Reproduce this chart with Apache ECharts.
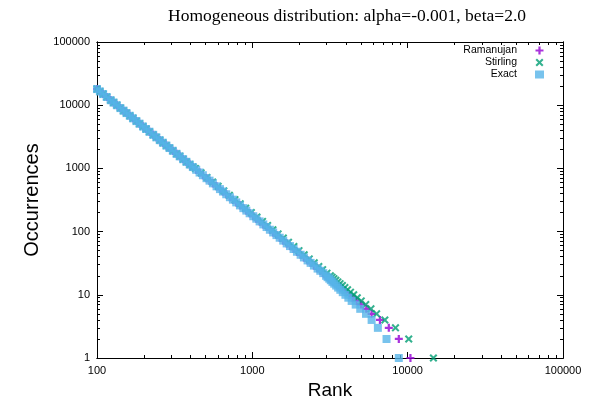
<!DOCTYPE html>
<html>
<head>
<meta charset="utf-8">
<script src="https://cdn.jsdelivr.net/npm/echarts@6/dist/echarts.min.js"></script>
<style>
html,body{margin:0;padding:0;background:#fff;}
#chart{width:611px;height:399px;}
</style>
</head>
<body>
<div id="chart"></div>
<script>
// ---- Data ----
const titleText = 'Homogeneous distribution: alpha=-0.001, beta=2.0';
const seriesNames = ['Ramanujan', 'Stirling', 'Exact'];
const xTickLabels = [100, 1000, 10000, 100000];
const yTickLabels = [1, 10, 100, 1000, 10000, 100000];

// shared body of the curve (all three series overlap here)
const bodyOcc = [18000,16500,15000,13500,12000,11000,10000,9000,8200,7500,6800,6200,5600,5100,4600,4200,3800,3400,3100,2800,2550,2300,2100,1900,1700,1550,1400,1270,1150,1050,950,860,780,700,640,580,520,470,430,390,350,320,290,260,235,215,195,175,160,145,130,118,107,97,88,80,72,65,59,53,48,43,39,35,32,29,26,24,22];
const bodyRanks = [100,104.4,109.5,115.5,122.5,127.9,134.2,141.4,148.2,154.9,162.7,170.4,179.3,187.9,197.8,207.0,217.7,230.1,241.0,253.5,265.7,279.7,292.8,307.8,325.4,340.8,358.5,376.5,395.6,414.1,435.3,457.5,480.4,507.1,530.3,557.1,588.3,618.8,646.9,679.4,717.1,750.0,787.8,832.2,875.2,915.0,960.9,1014,1061,1114,1177,1235,1297,1362,1430,1500,1581,1664,1747,1843,1937,2046,2148,2268,2372,2491,2631,2739,2861];

// tail: occurrence levels 20 .. 1
const tailOcc = [20,19,18,17,16,15,14,13,12,11,10,9,8,7,6,5,4,3,2,1];
const exactTailRanks = [2983,3052,3127,3199,3279,3366,3464,3568,3685,3820,3975,4150,4359,4629,4950,5390,5860,6430,7310,8770];
const ramanujanTailRanks = [2966,3044,3127,3218,3317,3425,3546,3679,3830,4000,4195,4422,4690,5014,5416,5860,6630,7560,8770,10420];
const stirlingTailRanks = [3178,3261,3350,3447,3553,3670,3799,3942,4103,4285,4494,4738,5025,5372,5802,6310,7130,8350,10160,14650];

// Stirling deviates slightly (to the right) in the middle part
const stirlingMidOcc = [1000,850,720,610,520,440,375,320,275,235,200,170,145,125,107,92,79,68,58,50,43,37,32,28,25,22];
const stirlingMidRanks = [430.1,467.8,509.6,555.2,602.1,655.4,711.8,772.6,835.6,906.2,984.9,1071,1163,1254,1357,1465,1583,1709,1852,1997,2157,2325,2503,2679,2835,3023];

const colors = { Ramanujan: '#9400d3', Stirling: '#009e73', Exact: '#56b4e9' };

function pairs(ranks, occ) { return ranks.map((r, i) => [r, occ[i]]); }

const bodyPairs = pairs(bodyRanks, bodyOcc);
const exactData = bodyPairs.concat(pairs(exactTailRanks, tailOcc));
const ramanujanData = bodyPairs.concat(pairs(ramanujanTailRanks, tailOcc));
const stirlingData = bodyPairs.filter(p => p[1] > 1000)
  .concat(pairs(stirlingMidRanks, stirlingMidOcc))
  .concat(pairs(stirlingTailRanks, tailOcc));

// minor tick positions of log axes (2..9 in every decade)
function minorTicks(lo, hi) {
  const out = [];
  for (let d = lo; d < hi; d *= 10) for (let k = 2; k <= 9; k++) out.push(d * k);
  return out;
}
const xMinor = minorTicks(100, 100000);
const yMinor = minorTicks(1, 100000);

const plusPath = 'path://M3.6,0h2.8v3.6h3.6v2.8h-3.6v3.6h-2.8v-3.6h-3.6v-2.8h3.6z';
const crossPath = 'path://M0,1.8L1.8,0L5,3.2L8.2,0L10,1.8L6.8,5L10,8.2L8.2,10L5,6.8L1.8,10L0,8.2L3.2,5Z';

const font = 'Liberation Sans';
const axisLineStyle = { show: true, onZero: false, lineStyle: { color: '#000', width: 1 } };

function xAxisDef(pos, minor, withLabels) {
  return {
    type: 'log', logBase: 10, min: 100, max: 100000, position: pos, gridIndex: 0,
    axisLine: axisLineStyle,
    splitLine: { show: false },
    axisTick: minor
      ? { show: true, inside: true, length: 3, customValues: xMinor, lineStyle: { color: '#000' } }
      : { show: true, inside: true, length: 6, lineStyle: { color: '#000' } },
    axisLabel: withLabels
      ? { show: true, color: '#000', fontFamily: font, fontSize: 11, margin: 7,
          formatter: v => String(Math.round(v)) }
      : { show: false },
    name: withLabels ? 'Rank' : '',
    nameLocation: 'middle', nameGap: 20,
    nameTextStyle: { fontFamily: font, fontSize: 19, color: '#000' }
  };
}
function yAxisDef(pos, minor, withLabels) {
  return {
    type: 'log', logBase: 10, min: 1, max: 100000, position: pos, gridIndex: 0,
    axisLine: axisLineStyle,
    splitLine: { show: false },
    axisTick: minor
      ? { show: true, inside: true, length: 3, customValues: yMinor, lineStyle: { color: '#000' } }
      : { show: true, inside: true, length: 6, lineStyle: { color: '#000' } },
    axisLabel: withLabels
      ? { show: true, color: '#000', fontFamily: font, fontSize: 11, margin: 7,
          formatter: v => String(Math.round(v)) }
      : { show: false },
    name: withLabels ? 'Occurrences' : '',
    nameLocation: 'middle', nameGap: 50, nameRotate: 90,
    nameTextStyle: { fontFamily: font, fontSize: 20, color: '#000' }
  };
}

const chart = echarts.init(document.getElementById('chart'), null, { renderer: 'canvas' });
chart.setOption({
  animation: false,
  backgroundColor: '#fff',
  title: {
    text: titleText, left: 342, top: 2, textAlign: 'center',
    textStyle: { fontFamily: 'Liberation Serif', fontSize: 17.5, fontWeight: 'normal', color: '#000' }
  },
  legend: {
    data: seriesNames, orient: 'vertical', right: 62, top: 40, align: 'right',
    itemWidth: 9, itemHeight: 8, itemGap: 1,
    textStyle: { fontFamily: font, fontSize: 10.5, lineHeight: 10, color: '#000', padding: [0, 13, 0, 0] }
  },
  grid: { left: 97, right: 48, top: 42, bottom: 41, containLabel: false, outerBoundsMode: 'none' },
  xAxis: [xAxisDef('bottom', false, true), xAxisDef('bottom', true, false),
          xAxisDef('top', false, false), xAxisDef('top', true, false)],
  yAxis: [yAxisDef('left', false, true), yAxisDef('left', true, false),
          yAxisDef('right', false, false), yAxisDef('right', true, false)],
  series: [
    { name: 'Ramanujan', type: 'scatter', data: ramanujanData, symbol: plusPath, symbolSize: 8,
      itemStyle: { color: colors.Ramanujan }, z: 2 },
    { name: 'Stirling', type: 'scatter', data: stirlingData, symbol: crossPath, symbolSize: 8,
      itemStyle: { color: colors.Stirling }, z: 3 },
    { name: 'Exact', type: 'scatter', data: exactData, symbol: 'rect', symbolSize: 8,
      itemStyle: { color: colors.Exact }, z: 4 }
  ]
});
</script>
</body>
</html>
